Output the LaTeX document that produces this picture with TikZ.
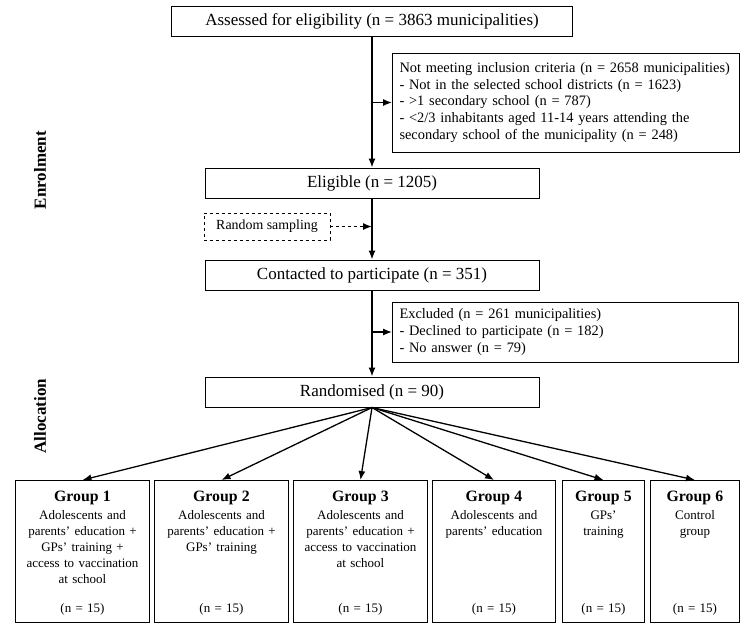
\documentclass[tikz,border=0pt]{standalone}
\usepackage{fontspec}
\setmainfont{Liberation Serif}
\usetikzlibrary{arrows.meta}
\newcommand{\grouptext}[2]{\parbox[c][142pt][t]{\linewidth}{\centering\vspace*{11pt}%
  {\fontsize{15.8}{17}\selectfont\bfseries #1}\\[2pt] #2\par\vfill (n = 15)\par\vspace*{7pt}}}

\begin{document}
\begin{tikzpicture}[x=1pt,y=-1pt,
    box/.style={draw,line width=1pt,minimum height=30pt,inner sep=0pt,font=\fontsize{17}{19}\selectfont},
    sidebox/.style={draw,line width=1pt,anchor=west,align=left,inner xsep=7pt,font=\fontsize{14.4}{16.8}\selectfont},
    groupbox/.style={draw,line width=1pt,anchor=north west,inner sep=0pt,text width=#1,font=\fontsize{13}{16}\selectfont},
    phase/.style={rotate=90,font=\fontsize{17}{19}\selectfont\bfseries},
    arr/.style={line width=1.3pt,->,>={Latex[length=9pt,width=7pt]}}]
\useasboundingbox (0,0) rectangle (750,630);
% phases
\node (enrol) [phase] at (40,170) {Enrolment};
\node (alloc) [phase] at (40,416) {Allocation};
% main flow
\node (assessed) [box,minimum width=401pt] at (372,21.5) {Assessed for eligibility (n = 3863 municipalities)};
\node (notmeet) [sidebox,text width=333pt,minimum height=99pt] at (392,102.5) {Not meeting inclusion criteria (n = 2658 municipalities)\\
  - Not in the selected school districts (n = 1623)\\
  - >1 secondary school (n = 787)\\
  - <2/3 inhabitants aged 11-14 years attending the\\
  secondary school of the municipality (n = 248)};
\node (eligible) [box,minimum width=334pt] at (372,183) {Eligible (n = 1205)};
\node (sampling) [draw,dashed,line width=0.8pt,minimum width=126pt,minimum height=27pt,font=\fontsize{13.9}{16}\selectfont] at (267,226.5) {Random sampling};
\node (contacted) [box,minimum width=334pt] at (372,275) {Contacted to participate (n = 351)};
\node (excluded) [sidebox,text width=332pt,minimum height=60pt] at (392,332) {Excluded (n = 261 municipalities)\\
  - Declined to participate (n = 182)\\
  - No answer (n = 79)};
\node (rand) [box,minimum width=334pt] at (372,392) {Randomised (n = 90)};
% groups
\node (g1) [groupbox=134pt] at (15,480) {\grouptext{Group 1}{Adolescents and\\ parents’ education +\\ GPs’ training +\\ access to vaccination\\ at school}};
\node (g2) [groupbox=134pt] at (154,480) {\grouptext{Group 2}{Adolescents and\\ parents’ education +\\ GPs’ training}};
\node (g3) [groupbox=134pt] at (293,480) {\grouptext{Group 3}{Adolescents and\\ parents’ education +\\ access to vaccination\\ at school}};
\node (g4) [groupbox=123pt] at (432,480) {\grouptext{Group 4}{Adolescents and\\ parents’ education}};
\node (g5) [groupbox=82pt] at (562,480) {\grouptext{Group 5}{GPs’\\ training}};
\node (g6) [groupbox=89pt] at (650,480) {\grouptext{Group 6}{Control\\ group}};
% connectors
\coordinate (split1) at (372,102.5);
\coordinate (split2) at (372,226.5);
\coordinate (split3) at (372,332);
\draw [arr] (assessed.south) -- (eligible.north);
\draw [arr] (split1) -- (notmeet.west);
\draw [arr] (eligible.south) -- (contacted.north);
\draw [arr,dashed] (sampling.east) -- (split2);
\draw [arr] (contacted.south) -- (rand.north);
\draw [arr] (split3) -- (excluded.west);
\foreach \g in {g1,g2,g3,g4,g5,g6}
  \draw [arr] (rand.south) -- (\g.north);
\end{tikzpicture}
\end{document}
